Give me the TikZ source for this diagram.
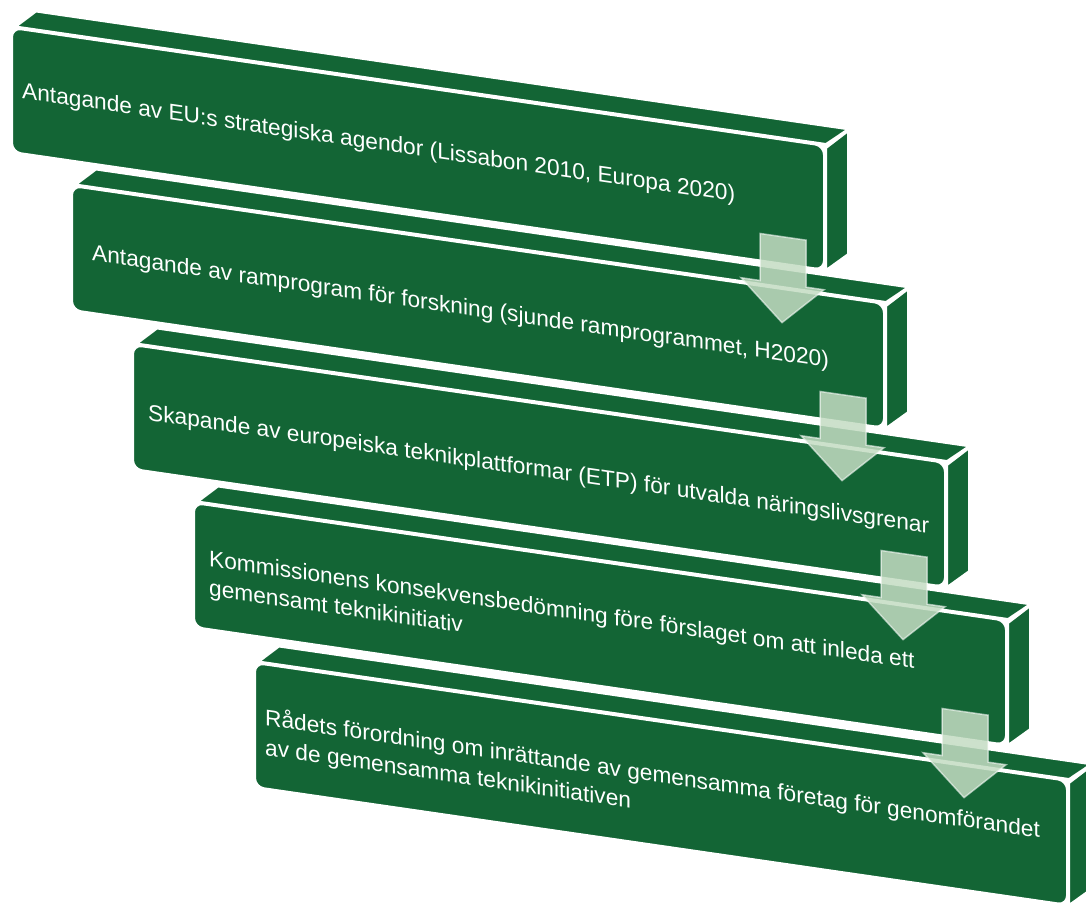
\documentclass[tikz,border=0pt]{standalone}
\usepackage{fontspec}
\setmainfont{Liberation Sans}
\definecolor{gruen}{RGB}{19,101,53}
\definecolor{hellgruen}{RGB}{196,220,195}
\tikzset{
  ebene/.style 2 args={shift={(#1,#2)},yslant=-0.145},
  flaeche/.style={fill=gruen,draw=white,line width=2pt},
  pfeil/.style={fill=hellgruen,fill opacity=0.85,draw=white,draw opacity=0.55,line width=1.5pt},
  etikett/.style={text=white,anchor=west,align=left,inner sep=0pt,transform shape,
    font=\fontsize{22.7}{29.5}\selectfont},
  block/.pic={
    \draw[flaeche] (4,-2) -- (24,-20) -- (836,-20) -- (814,-2) -- cycle;
    \draw[flaeche] (814,2) -- (836,-18) -- (836,105) -- (814,124) -- cycle;
    \draw[white,densely dotted,line width=1pt] (814,-1) -- (836,-19);
    \draw[flaeche,rounded corners=9pt] (0,0) rectangle (812,124);
  },
  stufenpfeil/.pic={
    \draw[pfeil] (748,97) -- (794,97) -- (794,144) -- (812,144) -- (770,183)
      -- (729,144) -- (748,144) -- cycle;
  }
}
\begin{document}
\begin{tikzpicture}[x=1pt,y=-1pt]
\useasboundingbox (0,0) rectangle (1086,904);
\begin{scope}[ebene={12}{28}]
  \pic[transform shape] {block};
  \node[etikett] (schritt1) at (10,63) {Antagande av EU:s strategiska agendor (Lissabon 2010, Europa 2020)};
\end{scope}
\begin{scope}[ebene={72}{186}]
  \pic[transform shape] {block};
  \node[etikett] (schritt2) at (20,66) {Antagande av ramprogram för forskning (sjunde ramprogrammet, H2020)};
\end{scope}
\begin{scope}[ebene={133}{345}]
  \pic[transform shape] {block};
  \node[etikett] (schritt3) at (15,67) {Skapande av europeiska teknikplattformar (ETP) för utvalda näringslivsgrenar};
\end{scope}
\begin{scope}[ebene={194}{503}]
  \pic[transform shape] {block};
  \node[etikett] (schritt4) at (15,70) {Kommissionens konsekvensbedömning före förslaget om att inleda ett\\gemensamt teknikinitiativ};
\end{scope}
\begin{scope}[ebene={255}{663}]
  \pic[transform shape] {block};
  \node[etikett] (schritt5) at (10,69) {Rådets förordning om inrättande av gemensamma företag för genomförandet\\av de gemensamma teknikinitiativen};
\end{scope}
\begin{scope}[ebene={12}{28}] \pic[transform shape] {stufenpfeil}; \end{scope}
\begin{scope}[ebene={72}{186}] \pic[transform shape] {stufenpfeil}; \end{scope}
\begin{scope}[ebene={133}{345}] \pic[transform shape] {stufenpfeil}; \end{scope}
\begin{scope}[ebene={194}{503}] \pic[transform shape] {stufenpfeil}; \end{scope}
\end{tikzpicture}
\end{document}
